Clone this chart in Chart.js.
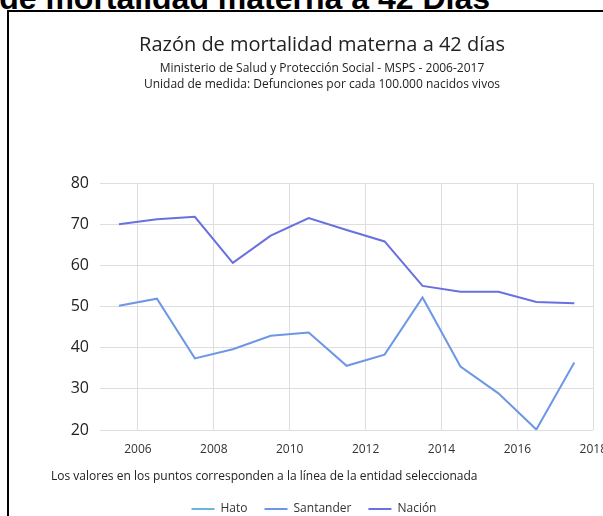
<!DOCTYPE html>
<html>
<head>
<meta charset="utf-8">
<script src="https://cdn.jsdelivr.net/npm/chart.js@4"></script>
<style>
  html, body { margin: 0; padding: 0; width: 603px; height: 516px; overflow: hidden; background: #fff; }
  body { position: relative; font-family: 'Open Sans', sans-serif; color: #222; }
  .heading { position: absolute; right: 113px; top: -18px; white-space: nowrap; font: bold 32px 'Liberation Sans', Arial, sans-serif; line-height: 32px; color: #000; }
  .box { position: absolute; left: 7px; top: 10px; width: 700px; height: 600px; border-left: 2px solid #000; border-top: 2px solid #000; }
  .title { position: absolute; left: 8px; width: 628px; text-align: center; }
  .t1 { top: 32px; font-size: 20px; line-height: 24px; }
  .t2 { top: 60px; font-size: 12px; line-height: 16px; }
  .note { position: absolute; left: 51px; top: 468px; font-size: 12px; line-height: 16px; white-space: nowrap; }
  #wrap { position: absolute; left: 8px; top: 0; width: 611px; height: 527px; }
</style>
</head>
<body>
<div class="heading">Razón de mortalidad materna a 42 Días</div>
<div class="box"></div>
<div id="wrap"><canvas id="chart"></canvas></div>
<div class="title t1">Razón de mortalidad materna a 42 días</div>
<div class="title t2">Ministerio de Salud y Protección Social - MSPS - 2006-2017<br>Unidad de medida: Defunciones por cada 100.000 nacidos vivos</div>
<div class="note">Los valores en los puntos corresponden a la línea de la entidad seleccionada</div>
<script>
const xPoints = [2005.5, 2006.5, 2007.5, 2008.5, 2009.5, 2010.5, 2011.5, 2012.5, 2013.5, 2014.5, 2015.5, 2016.5, 2017.5];
const hato = [];
const santander = [50.2, 51.9, 37.4, 39.6, 42.9, 43.7, 35.6, 38.3, 52.2, 35.4, 28.9, 20.1, 36.4];
const nacion = [70.0, 71.2, 71.8, 60.6, 67.2, 71.5, 68.6, 65.8, 55.0, 53.6, 53.6, 51.1, 50.8];
const xTicks = [2006, 2008, 2010, 2012, 2014, 2016, 2018];
const yTicks = [20, 30, 40, 50, 60, 70, 80];

Chart.defaults.font.family = "'Open Sans', sans-serif";
Chart.defaults.color = '#333';

const toPoints = vals => vals.map((v, i) => ({ x: xPoints[i], y: v }));

new Chart(document.getElementById('chart'), {
  type: 'line',
  data: {
    datasets: [
      { label: 'Hato', data: toPoints(hato), borderColor: '#6cb6e0', backgroundColor: '#6cb6e0', borderWidth: 2, pointRadius: 0, tension: 0 },
      { label: 'Santander', data: toPoints(santander), borderColor: '#6d97e6', backgroundColor: '#6d97e6', borderWidth: 2, pointRadius: 0, tension: 0 },
      { label: 'Nación', data: toPoints(nacion), borderColor: '#6970df', backgroundColor: '#6970df', borderWidth: 2, pointRadius: 0, tension: 0 },
    ],
  },
  options: {
    responsive: true,
    maintainAspectRatio: false,
    animation: false,
    layout: { padding: { top: 183, left: 21, right: 20, bottom: 2 } },
    plugins: {
      title: { display: false },
      tooltip: { enabled: false },
      legend: {
        position: 'bottom',
        labels: {
          usePointStyle: true,
          pointStyle: 'line',
          pointStyleWidth: 23,
          padding: 17,
          color: '#333',
          font: { size: 12 },
        },
      },
    },
    scales: {
      x: {
        type: 'linear',
        min: 2005,
        max: 2018,
        afterBuildTicks: axis => { axis.ticks = xTicks.map(v => ({ value: v })); },
        afterFit: axis => { axis.height = 56; },
        grid: { color: '#dedede', drawTicks: false },
        border: { display: false },
        ticks: { padding: 12, font: { size: 12 }, color: '#333', callback: v => String(v) },
      },
      y: {
        min: 20,
        max: 80,
        afterBuildTicks: axis => { axis.ticks = yTicks.map(v => ({ value: v })); },
        afterFit: axis => { axis.width = 71; },
        grid: { color: '#dedede', drawTicks: false },
        border: { display: false },
        ticks: { padding: 11, font: { size: 16 }, color: '#222' },
      },
    },
  },
});
</script>
</body>
</html>
